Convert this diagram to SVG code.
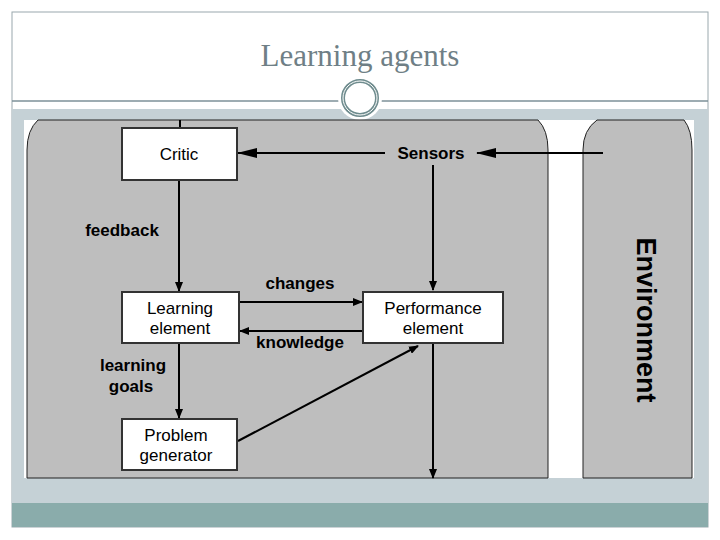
<svg xmlns="http://www.w3.org/2000/svg" width="720" height="540" viewBox="0 0 720 540">
<defs>
<style>
.box{fill:#fff;stroke:#333;stroke-width:2}
.ln{stroke:#000;stroke-width:2;fill:none}
.t{font-family:"Liberation Sans",Arial,sans-serif;font-size:17px;fill:#000;text-anchor:middle}
.b{font-family:"Liberation Sans",Arial,sans-serif;font-size:17px;font-weight:bold;fill:#000;text-anchor:middle}
</style>
<marker id="ah" markerWidth="10" markerHeight="8" refX="9" refY="4" orient="auto" markerUnits="userSpaceOnUse" viewBox="0 0 10 8"><path d="M0,0L10,4L0,8z" fill="#000"/></marker>
<marker id="ahw" markerWidth="20" markerHeight="10" refX="19" refY="5" orient="auto" markerUnits="userSpaceOnUse" viewBox="0 0 20 10"><path d="M0,0L20,5L0,10z" fill="#000"/></marker>
</defs>
<rect x="0" y="0" width="720" height="540" fill="#fff"/>
<rect x="12" y="12" width="696" height="515" fill="#fff" stroke="#9aa8ad" stroke-width="1"/>
<text x="360" y="66" font-family="Liberation Serif,serif" font-size="31" fill="#6f7f86" text-anchor="middle">Learning agents</text>
<line x1="12" y1="101" x2="708" y2="101" stroke="#7c9098" stroke-width="1.5"/>
<rect x="12" y="109" width="696" height="394" fill="#c5d1d6"/>
<rect x="12" y="503" width="696" height="24" fill="#8aacab"/>
<circle cx="360" cy="98" r="22" fill="#fff"/>
<circle cx="360" cy="98" r="17" fill="none" stroke="#6f8c8e" stroke-width="4"/>
<circle cx="360" cy="98" r="17" fill="none" stroke="#fff" stroke-width="1"/>
<rect x="24" y="120" width="670" height="358" fill="#fff"/>
<path d="M38,120 Q27,130 27,150 V478 H548 V150 Q548,130 538,120 Z" fill="#bebebe" stroke="#222" stroke-width="1"/>
<path d="M597,120 Q583,130 583,150 V478 H692 V150 Q692,130 684,120 Z" fill="#bebebe" stroke="#222" stroke-width="1"/>
<text transform="translate(637,320) rotate(90)" style="font-family:'Liberation Sans',Arial,sans-serif;font-size:27px;font-weight:bold;text-anchor:middle">Environment</text>
<g id="connectors">
<line class="ln" x1="180" y1="120" x2="180" y2="127"/>
<line class="ln" x1="385" y1="153" x2="238" y2="153" marker-end="url(#ahw)"/>
<line class="ln" x1="603" y1="153" x2="477" y2="153" marker-end="url(#ahw)"/>
<line class="ln" x1="433" y1="165" x2="433" y2="290" marker-end="url(#ah)"/>
<line class="ln" x1="179" y1="181" x2="179" y2="291" marker-end="url(#ah)"/>
<line class="ln" x1="240" y1="302" x2="362" y2="302" marker-end="url(#ah)"/>
<line class="ln" x1="362" y1="331" x2="240" y2="331" marker-end="url(#ah)"/>
<line class="ln" x1="179" y1="344" x2="179" y2="418" marker-end="url(#ah)"/>
<line class="ln" x1="238" y1="441" x2="418" y2="346" marker-end="url(#ah)"/>
<line class="ln" x1="433" y1="344" x2="433" y2="478" marker-end="url(#ah)"/>
<text class="b" x="122" y="236">feedback</text>
<text class="b" x="300" y="289">changes</text>
<text class="b" x="300" y="348">knowledge</text>
<text class="b" x="133" y="371">learning</text>
<text class="b" x="131" y="392">goals</text>
</g>
<g id="sensors"><text class="b" x="431" y="159">Sensors</text></g>
<g id="critic"><rect class="box" x="122" y="128" width="115" height="52"/><text class="t" x="179" y="160">Critic</text></g>
<g id="learning"><rect class="box" x="122" y="292" width="117" height="51"/><text class="t" x="180" y="314">Learning</text><text class="t" x="180" y="334">element</text></g>
<g id="performance"><rect class="box" x="363" y="292" width="140" height="51"/><text class="t" x="433" y="314">Performance</text><text class="t" x="433" y="334">element</text></g>
<g id="problem"><rect class="box" x="122" y="419" width="115" height="51"/><text class="t" x="176" y="441">Problem</text><text class="t" x="176" y="461">generator</text></g>
</svg>
